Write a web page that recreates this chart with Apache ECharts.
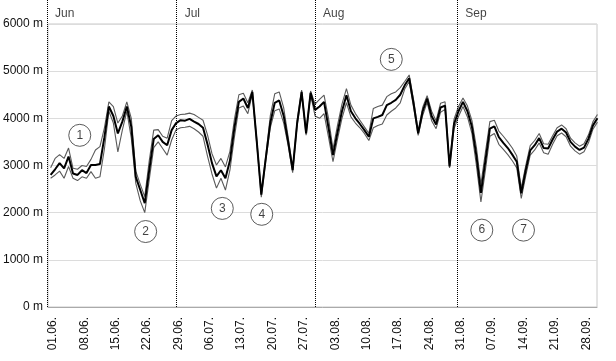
<!DOCTYPE html>
<html>
<head>
<meta charset="utf-8">
<script src="https://cdn.jsdelivr.net/npm/echarts@6/dist/echarts.min.js"></script>
<style>html,body{margin:0;padding:0;background:#fff}#c{width:616px;height:361px}</style>
</head>
<body>
<div id="c"></div>
<script>
// ---- data (day index 0 = 01.06.) ----
const tickDays = [0,7,14,21,28,35,42,49,56,63,70,77,84,91,98,105,112,119];
const tickLabels = ['01.06.','08.06.','15.06.','22.06.','29.06.','06.07.','13.07.','20.07.','27.07.','03.08.','10.08.','17.08.','24.08.','31.08.','07.09.','14.09.','21.09.','28.09.'];
const yTicks = [0,1000,2000,3000,4000,5000,6000];

const centerLine = [2800,2920,3050,2940,3190,2830,2800,2900,2840,3010,3010,3030,3600,4250,4050,3680,3930,4250,3820,2760,
2480,2200,2900,3560,3640,3500,3430,3750,3900,3960,3950,3990,3930,3880,3800,3450,3050,2770,2900,2730,
3100,3800,4350,4420,4220,4560,3500,2380,3150,3900,4330,4380,4050,3500,2900,3900,4560,3680,4540,4180,
4250,4350,3800,3220,3700,4150,4490,4150,4000,3880,3750,3610,4000,4030,4070,4280,4330,4390,4500,4700,
4850,4300,3680,4150,4420,4050,3870,4230,4270,2980,3880,4150,4350,4150,3820,3200,2420,3100,3780,3830,
3600,3480,3370,3230,3080,2410,2900,3320,3430,3580,3370,3360,3550,3720,3780,3700,3500,3400,3330,3380,
3570,3850,4000];
const upperLine = [2950,3150,3230,3150,3370,2940,2920,3000,2980,3130,3330,3400,3800,4350,4250,3900,4050,4350,4000,2880,
2600,2340,3100,3750,3760,3620,3580,3950,4050,4080,4090,4110,4080,4020,3960,3650,3250,3010,3150,2970,
3300,3980,4500,4530,4330,4600,3550,2420,3200,4050,4520,4560,4220,3600,2950,3950,4600,3720,4580,4300,
4400,4490,4000,3350,3850,4300,4630,4280,4100,3960,3820,3680,4210,4250,4280,4460,4520,4560,4650,4780,
4920,4380,3720,4230,4480,4150,3950,4320,4350,3010,3980,4250,4430,4260,3950,3380,2600,3280,3930,3960,
3730,3620,3500,3370,3200,2520,3000,3420,3530,3680,3460,3450,3630,3800,3860,3780,3580,3480,3410,3460,
3650,3930,4080];
const lowerLine = [2730,2800,2880,2730,2980,2730,2680,2760,2730,2870,2730,2760,3350,4150,3900,3290,3750,4150,3580,2620,
2250,2000,2700,3380,3500,3360,3220,3540,3760,3800,3810,3830,3780,3710,3620,3200,2820,2520,2730,2480,
2900,3600,4220,4260,4100,4520,3450,2330,3100,3800,4160,4200,3900,3420,2850,3850,4520,3640,4500,4050,
4000,4100,3600,3080,3560,4000,4330,4030,3900,3800,3680,3530,3800,3850,3880,4070,4150,4220,4330,4620,
4780,4220,3640,4060,4340,3950,3780,4130,4190,2950,3780,4040,4250,4030,3680,3000,2230,2900,3620,3680,
3450,3340,3230,3100,2950,2300,2780,3220,3330,3480,3270,3240,3450,3630,3690,3610,3410,3310,3240,3290,
3480,3770,3920];

const monthNames = ['Jun','Jul','Aug','Sep'];
const monthLineDays = [-0.58, 28.3, 59.1, 90.8];

const annotNumbers = ['1','2','3','4','5','6','7'];
const annotDays = [6.5, 21.2, 38.3, 47.1, 76.0, 96.2, 105.5];
const annotValues = [3640, 1600, 2090, 1965, 5250, 1630, 1630];

// ---- chart ----
const FONT = '"Liberation Sans", Arial, sans-serif';
const TXT = '#111';
const xMin = -0.58, xMax = 121.9;
const toPairs = arr => arr.map((v, i) => [i, v]);
const chart = echarts.init(document.getElementById('c'), null, {renderer: 'canvas'});

chart.setOption({
  animation: false,
  backgroundColor: '#fff',
  textStyle: {fontFamily: FONT},
  grid: [
    {left: 47, right: 19, top: 24, bottom: 54, show: true, borderColor: '#c8c8c8', borderWidth: 1, backgroundColor: 'transparent'},
    {left: 47, right: 19, top: 0, bottom: 54}
  ],
  xAxis: [
    {
      type: 'value', gridIndex: 0, min: xMin, max: xMax,
      axisLine: {show: true, lineStyle: {color: '#aaa', width: 1}},
      axisTick: {show: false},
      splitLine: {show: false},
      axisLabel: {
        rotate: 90, margin: 10, fontSize: 12, color: TXT, fontFamily: FONT,
        customValues: tickDays.map(d => d + 0.5),
        formatter: v => tickLabels[tickDays.indexOf(Math.round(v - 0.5))] || ''
      }
    },
    {type: 'value', gridIndex: 1, min: xMin, max: xMax, show: false}
  ],
  yAxis: [
    {
      type: 'value', gridIndex: 0, min: yTicks[0], max: yTicks[yTicks.length - 1], interval: 1000,
      axisLine: {show: false}, axisTick: {show: false},
      splitLine: {lineStyle: {color: '#dcdcdc', width: 1}},
      axisLabel: {formatter: v => String(v) + ' m', fontSize: 12, color: TXT, margin: 5, fontFamily: FONT}
    },
    {type: 'value', gridIndex: 1, min: 0, max: 1, show: false}
  ],
  series: [
    {
      type: 'line', name: 'upper', data: toPairs(upperLine), showSymbol: false, symbol: 'none',
      lineStyle: {color: '#5a5a5a', width: 1.1}, z: 3
    },
    {
      type: 'line', name: 'lower', data: toPairs(lowerLine), showSymbol: false, symbol: 'none',
      lineStyle: {color: '#5a5a5a', width: 1.1}, z: 3
    },
    {
      type: 'line', name: 'center', data: toPairs(centerLine), showSymbol: false, symbol: 'none',
      lineStyle: {color: '#000', width: 2}, z: 4
    },
    {
      type: 'scatter', xAxisIndex: 1, yAxisIndex: 1,
      data: monthLineDays.map((d, i) => ({value: [d, 1], name: monthNames[i]})),
      symbolSize: 0,
      label: {show: true, position: 'right', offset: [3, 14], formatter: p => p.name, fontSize: 12, color: TXT, fontFamily: FONT},
      markLine: {
        silent: true, symbol: 'none', animation: false,
        label: {show: false},
        lineStyle: {color: '#000', type: 'dotted', width: 1},
        data: monthLineDays.map(d => ({xAxis: d}))
      },
      z: 5
    },
    {
      type: 'scatter', data: annotDays.map((d, i) => ({value: [d, annotValues[i]], name: annotNumbers[i]})),
      symbol: 'circle', symbolSize: 22,
      itemStyle: {color: '#fff', borderColor: '#333', borderWidth: 1},
      label: {show: true, position: 'inside', formatter: p => p.name, fontSize: 12, color: TXT, fontFamily: FONT},
      z: 6
    }
  ]
});
</script>
</body>
</html>
